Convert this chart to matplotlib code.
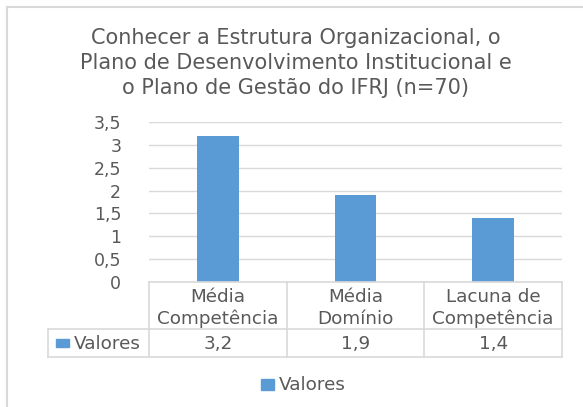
import matplotlib
matplotlib.use("Agg")
import matplotlib.pyplot as plt
from matplotlib.patches import Rectangle
from matplotlib.lines import Line2D

categories = [["Média", "Competência"], ["Média", "Domínio"], ["Lacuna de", "Competência"]]
values = [3.2, 1.9, 1.4]
value_labels = ["3,2", "1,9", "1,4"]
series_name = "Valores"
title = "Conhecer a Estrutura Organizacional, o\nPlano de Desenvolvimento Institucional e\no Plano de Gestão do IFRJ (n=70)"
yticks = [0, 0.5, 1, 1.5, 2, 2.5, 3, 3.5]
ytick_labels = ["0", "0,5", "1", "1,5", "2", "2,5", "3", "3,5"]

W, H = 583, 407
BLUE = "#5B9BD5"
TXT = "#595959"
GRID = "#D9D9D9"
plt.rcParams['font.family'] = ['DejaVu Sans']

fig = plt.figure(figsize=(W / 100, H / 100), dpi=100)

def fx(x):
    return x / W

def fy(y):
    return 1 - y / H

# chart frame
fig.add_artist(Line2D([fx(7), fx(583)], [fy(7), fy(7)], color=GRID, lw=1.5))
fig.add_artist(Line2D([fx(7), fx(7)], [fy(7), fy(407)], color=GRID, lw=1.5))

# title
fig.text(fx(296), fy(63), title, ha="center", va="center", fontsize=15,
         color=TXT, linespacing=1.3)

L, R, T, B = 149, 562, 122, 282
ax = fig.add_axes([fx(L), fy(B), fx(R) - fx(L), (B - T) / H])
x = list(range(len(values)))
ax.bar(x, values, width=0.305, color=BLUE, zorder=3)
ax.set_xlim(-0.5, len(values) - 0.5)
ax.set_ylim(0, 3.5)
ax.set_yticks(yticks)
ax.set_yticklabels(ytick_labels)
ax.tick_params(axis="y", length=0, pad=20, labelsize=12.5, labelcolor=TXT)
ax.set_xticks([])
for s in ax.spines.values():
    s.set_visible(False)
for t in yticks[1:]:
    ax.axhline(t, color=GRID, lw=1.0, zorder=1)

# data table
def hline(y, x0, x1):
    fig.add_artist(Line2D([fx(x0), fx(x1)], [fy(y), fy(y)], color=GRID, lw=1.2))

def vline(x_, y0, y1):
    fig.add_artist(Line2D([fx(x_), fx(x_)], [fy(y0), fy(y1)], color=GRID, lw=1.2))

hline(282, L, R)
hline(329, 48, R)
hline(357, 48, R)
vline(48, 329, 357)
colw = (R - L) / len(values)
for i in range(len(values) + 1):
    vline(L + i * colw, 282, 357)

FS = 13.2
for i, (cat, vl) in enumerate(zip(categories, value_labels)):
    cx = L + (i + 0.5) * colw
    fig.text(fx(cx), fy(297), cat[0], ha="center", va="center", fontsize=FS, color=TXT)
    fig.text(fx(cx), fy(319), cat[1], ha="center", va="center", fontsize=FS, color=TXT)
    fig.text(fx(cx), fy(344), vl, ha="center", va="center", fontsize=FS, color=TXT)

fig.add_artist(Rectangle((fx(56), fy(347)), fx(13), 8 / H, color=BLUE, transform=fig.transFigure))
fig.text(fx(74), fy(344), series_name, ha="left", va="center", fontsize=FS, color=TXT)

# legend
fig.add_artist(Rectangle((fx(261), fy(390)), fx(13), 11 / H, color=BLUE, transform=fig.transFigure))
fig.text(fx(279), fy(385), series_name, ha="left", va="center", fontsize=FS, color=TXT)

fig.savefig("out.png", dpi=100)
